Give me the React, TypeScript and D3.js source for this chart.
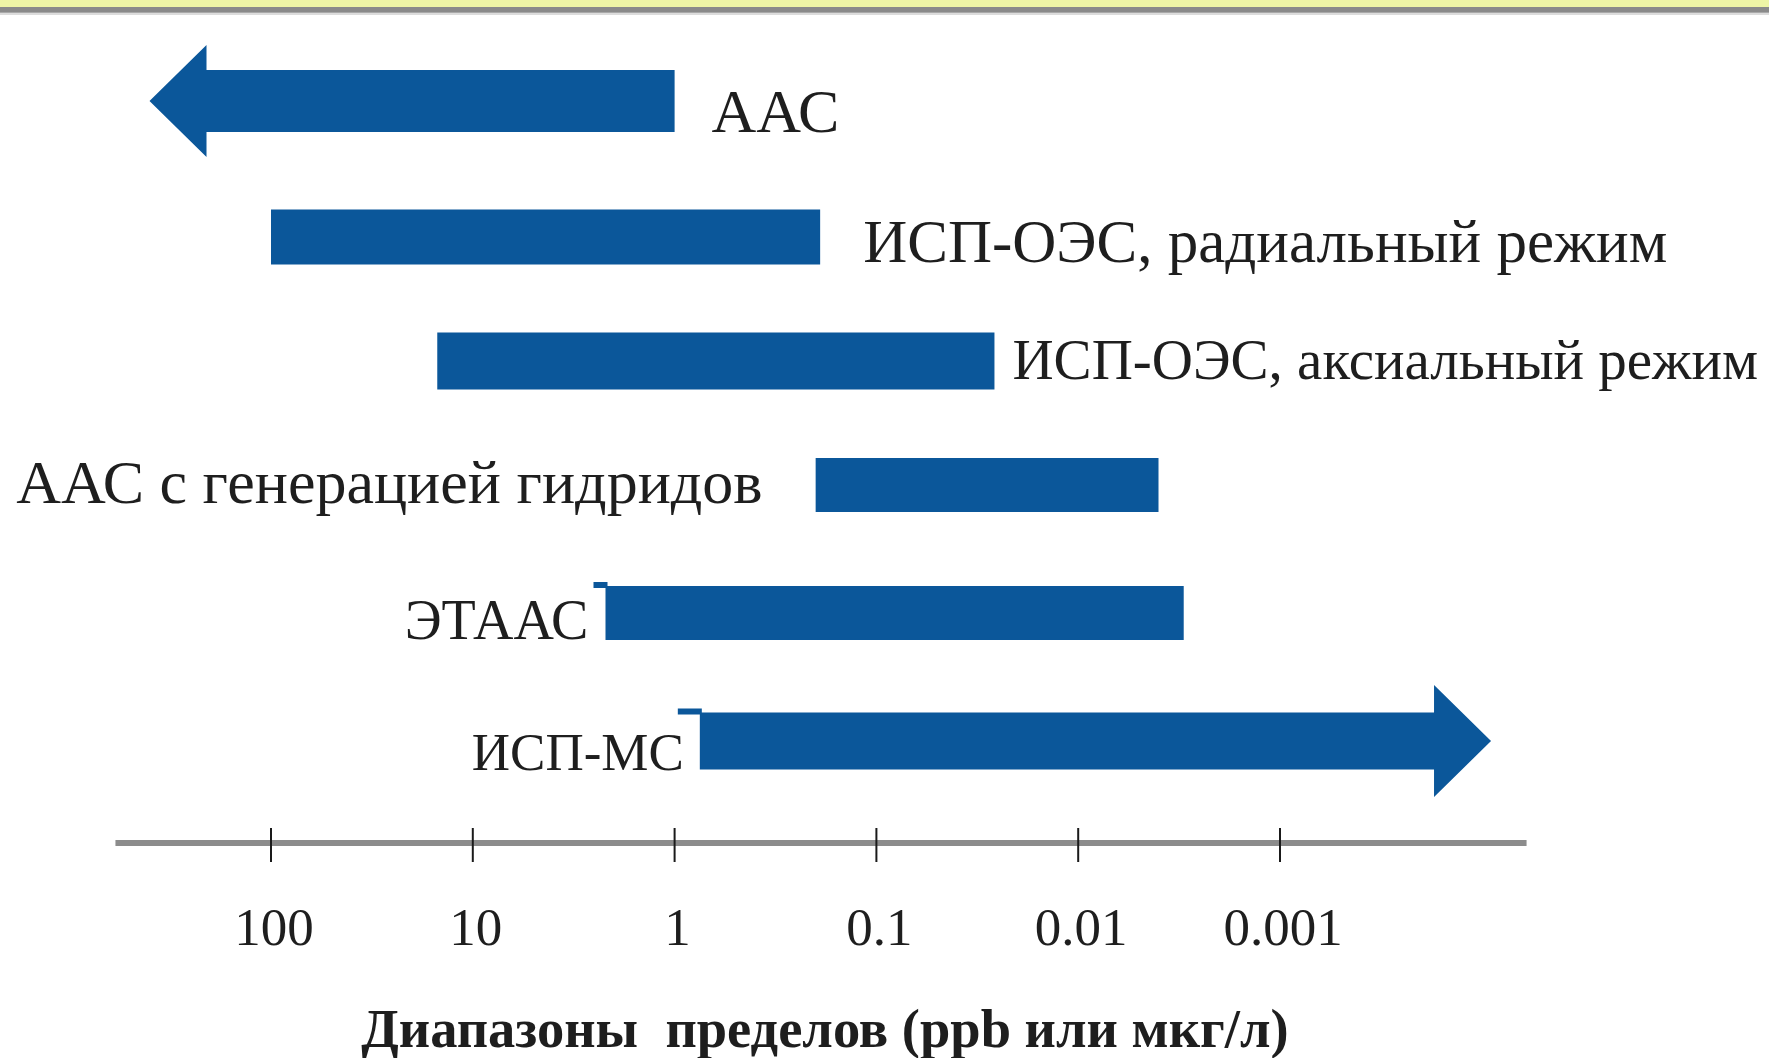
import React, { useEffect } from "react";
import * as d3 from "d3";

// Detection ranges of analytical methods (ppb, i.e. µg/L)
const methods = [
  "ААС",
  "ИСП-ОЭС, радиальный режим",
  "ИСП-ОЭС, аксиальный режим",
  "ААС с генерацией гидридов",
  "ЭТААС",
  "ИСП-МС",
];
// high-concentration end (left) and low-concentration end (right) of each range
const upperLimits = [400, 100, 15, 0.2, 2.2, 0.75];
const lowerLimits = [1, 0.19, 0.026, 0.004, 0.003, 0.00009];
// which end continues beyond the scale (drawn as an arrow head)
const openEnds = ["upper", "", "", "", "", "lower"];
const labelSides = ["right", "right", "right", "left", "left", "left"];

const tickValues = [100, 10, 1, 0.1, 0.01, 0.001];
const tickLabels = ["100", "10", "1", "0.1", "0.01", "0.001"];
const axisTitle = "Диапазоны\u00A0 пределов (ppb или мкг/л)";

// ---- layout / style ----
const W = 1769;
const H = 1058;
const BAR_COLOR = "#0b579a";
const TEXT_COLOR = "#1e1e1e";
const FONT = "'Liberation Serif', 'Times New Roman', serif";
const HEAD_LEN = 57;
const HEAD_HALF = 56;
const AXIS_Y = 843;
// per-row placement: vertical nudge, bar thickness, label gap from bar end,
// label baseline offset, label font size, small tab at the bar's top-left corner
const rowLayout = [
  { nudge: 0, h: 62, gap: 37, dy: 31, size: 62, tab: 0 },
  { nudge: 8, h: 55, gap: 43, dy: 25, size: 61, tab: 0 },
  { nudge: 4, h: 57, gap: 18, dy: 18, size: 57, tab: 0 },
  { nudge: 0, h: 54, gap: 53, dy: 18, size: 62, tab: 0 },
  { nudge: 0, h: 54, gap: 17, dy: 26, size: 56, tab: 12 },
  { nudge: 0, h: 57, gap: 16, dy: 29, size: 53, tab: 22 },
];

export default function App() {
  useEffect(() => {
    document.body.style.margin = "0";
    document.body.style.overflow = "hidden";
  }, []);

  const x = d3.scaleLog().domain([100, 0.001]).range([271, 1280]);
  const y = d3.scalePoint<string>().domain(methods).range([101, 741]);

  const rows = methods.map((m, i) => {
    const L = rowLayout[i];
    const cy = (y(m) as number) + L.nudge;
    const xl = x(upperLimits[i]);
    const xr = x(lowerLimits[i]);
    const y0 = cy - L.h / 2;
    const y1 = cy + L.h / 2;
    let path: string;
    if (openEnds[i] === "upper") {
      const xb = xl + HEAD_LEN;
      path = `M${xr},${y0}L${xb},${y0}L${xb},${cy - HEAD_HALF}L${xl},${cy}L${xb},${cy + HEAD_HALF}L${xb},${y1}L${xr},${y1}Z`;
    } else if (openEnds[i] === "lower") {
      const xb = xr - HEAD_LEN;
      path = `M${xl},${y0}L${xb},${y0}L${xb},${cy - HEAD_HALF}L${xr},${cy}L${xb},${cy + HEAD_HALF}L${xb},${y1}L${xl},${y1}Z`;
    } else {
      path = `M${xl},${y0}L${xr},${y0}L${xr},${y1}L${xl},${y1}Z`;
    }
    return { m, i, cy, xl, xr, y0, path, L };
  });

  const axisStart = x(590);
  const axisEnd = x(0.00006);

  return (
    <svg width={W} height={H} style={{ display: "block", background: "#ffffff" }}>
      {/* header strip */}
      <rect x={0} y={0} width={W} height={7} fill="#eef5a6" />
      <rect x={0} y={7} width={W} height={5} fill="#8a8a8a" />
      <rect x={0} y={12} width={W} height={1} fill="#a9a9a9" />
      <rect x={0} y={13} width={W} height={2} fill="#dcdcdc" />

      {rows.map((r) => {
        const L = r.L;
        const right = labelSides[r.i] === "right";
        return (
          <g key={r.m}>
            <path d={r.path} fill={BAR_COLOR} />
            {L.tab > 0 && (
              <rect x={r.xl - L.tab} y={r.y0 - 4} width={L.tab + 2} height={6} fill={BAR_COLOR} />
            )}
            <text
              x={right ? r.xr + L.gap : r.xl - L.gap}
              y={r.cy + L.dy}
              textAnchor={right ? "start" : "end"}
              fontFamily={FONT}
              fontSize={L.size}
              fill={TEXT_COLOR}
            >
              {r.m}
            </text>
          </g>
        );
      })}

      {/* axis */}
      <line x1={axisStart} x2={axisEnd} y1={AXIS_Y} y2={AXIS_Y} stroke="#8c8c8c" strokeWidth={6} />
      {tickValues.map((v, i) => (
        <g key={v} transform={`translate(${x(v)},0)`}>
          <line y1={AXIS_Y - 15} y2={AXIS_Y + 19} stroke="#1a1a1a" strokeWidth={2} />
          <text
            x={3}
            y={945}
            textAnchor="middle"
            fontFamily={FONT}
            fontSize={53}
            fill={TEXT_COLOR}
          >
            {tickLabels[i]}
          </text>
        </g>
      ))}
      <text
        x={825}
        y={1047}
        textAnchor="middle"
        fontFamily={FONT}
        fontWeight="bold"
        fontSize={54.5}
        fill={TEXT_COLOR}
      >
        {axisTitle}
      </text>
    </svg>
  );
}
